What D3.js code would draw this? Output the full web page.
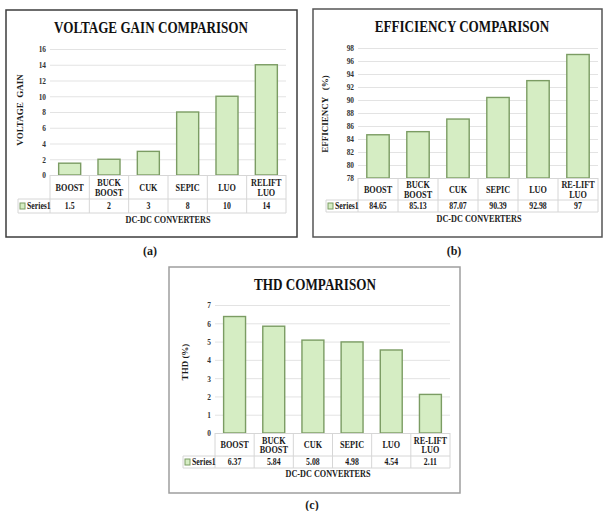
<!DOCTYPE html>
<html><head><meta charset="utf-8">
<script src="https://cdn.jsdelivr.net/npm/d3@7"></script>
<style>html,body{margin:0;padding:0;background:#fff;}svg{display:block;} svg text{font-family:"Liberation Serif","DejaVu Serif",serif;}</style>
</head><body>
<script>
// ---- data ----
const categoriesA = ["BOOST", "BUCK BOOST", "CUK", "SEPIC", "LUO", "RELIFT LUO"];
const categoriesBC = ["BOOST", "BUCK BOOST", "CUK", "SEPIC", "LUO", "RE-LIFT LUO"];
const voltageGain = [1.5, 2, 3, 8, 10, 14];
const efficiency = [84.65, 85.13, 87.07, 90.39, 92.98, 97];
const thd = [6.37, 5.84, 5.08, 4.98, 4.54, 2.11];
const voltageTicks = [0, 2, 4, 6, 8, 10, 12, 14, 16];
const efficiencyTicks = [78, 80, 82, 84, 86, 88, 90, 92, 94, 96, 98];
const thdTicks = [0, 1, 2, 3, 4, 5, 6, 7];
const seriesName = "Series1";
const xTitle = "DC-DC CONVERTERS";

const W = 604, H = 511;
const SX = 0.82;
const FONT = "Liberation Serif";
const BAR_FILL = "#d5edc3", BAR_STROKE = "#7b9c63";

const svg = d3.select("body").append("svg").attr("width", W).attr("height", H);

function txt(g, x, y, s, size, anchor, opts = {}) {
  const t = g.append("text")
    .attr("transform", `translate(${x},${y}) ${opts.rot ? "rotate(-90) " : ""}scale(${opts.sx || SX},1)`)
    .attr("text-anchor", anchor || "middle")
    .style("font-family", FONT).attr("font-weight", "bold")
    .attr("font-size", size).attr("fill", opts.fill || "#1a1a1a")
    .text(s);
  if (opts.ws) t.style("white-space", "pre");
  return t;
}

function panel(cfg) {
  const g = svg.append("g");
  g.append("rect").attr("x", cfg.box[0]).attr("y", cfg.box[1])
    .attr("width", cfg.box[2] - cfg.box[0]).attr("height", cfg.box[3] - cfg.box[1])
    .attr("fill", "#fff").attr("stroke", cfg.boxStroke).attr("stroke-width", cfg.boxWidth);
  txt(g, cfg.title[0], cfg.title[1], cfg.titleText, 16, "middle", { fill: "#111" });

  const p = cfg.plot;
  const x = d3.scaleBand().domain(cfg.cats).range([p.l, p.r]).paddingInner(0.44).paddingOuter(0.22);
  const xb = d3.scaleBand().domain(cfg.cats).range([p.l, p.r]);
  const y = d3.scaleLinear().domain(cfg.domain).range([p.b, p.t]);

  const grid = g.append("g").attr("transform", `translate(${p.l},0)`)
    .call(d3.axisLeft(y).tickValues(cfg.ticks).tickSize(-(p.r - p.l)).tickFormat(""));
  grid.select(".domain").remove();
  grid.selectAll(".tick line").attr("stroke", "#e3e3e3").attr("stroke-width", 1);
  const ax = g.append("g").attr("transform", `translate(${p.l - 4},0)`)
    .call(d3.axisLeft(y).tickValues(cfg.ticks).tickSize(0).tickPadding(0).tickFormat(d3.format("~g")));
  ax.select(".domain").remove();
  ax.selectAll(".tick text").style("font-family", FONT).attr("font-weight", "bold")
    .attr("font-size", 9).attr("fill", "#333")
    .attr("transform", `scale(${SX},1)`).attr("dy", "0.33em");

  g.append("g").selectAll("rect").data(cfg.values).join("rect")
    .attr("x", (d, i) => x(cfg.cats[i]))
    .attr("y", d => y(d))
    .attr("width", x.bandwidth())
    .attr("height", d => y(cfg.domain[0]) - y(d))
    .attr("fill", BAR_FILL).attr("stroke", BAR_STROKE).attr("stroke-width", 1.4);

  const tg = g.append("g").attr("stroke", "#d6d6d6").attr("stroke-width", 1);
  tg.append("line").attr("x1", p.l).attr("x2", p.r).attr("y1", p.b + 0.5).attr("y2", p.b + 0.5);
  tg.append("line").attr("x1", cfg.legendLeft).attr("x2", p.r).attr("y1", cfg.row1).attr("y2", cfg.row1);
  tg.append("line").attr("x1", cfg.legendLeft).attr("x2", p.r).attr("y1", cfg.row2).attr("y2", cfg.row2);
  tg.append("line").attr("x1", cfg.legendLeft).attr("x2", cfg.legendLeft).attr("y1", cfg.row1).attr("y2", cfg.row2);
  const edges = cfg.cats.map(c => xb(c)).concat([p.r]);
  tg.selectAll("line.v").data(edges).join("line").attr("class", "v")
    .attr("x1", d => d).attr("x2", d => d).attr("y1", p.b).attr("y2", cfg.row2);

  cfg.cats.forEach((c, i) => {
    const cx = xb(c) + xb.bandwidth() / 2;
    const parts = c.split(" ");
    if (parts.length === 1) {
      txt(g, cx, (p.b + cfg.row1) / 2 + 3.5, parts[0], 10, "middle");
    } else {
      txt(g, cx, (p.b + cfg.row1) / 2 - 1, parts[0], 10, "middle");
      txt(g, cx, (p.b + cfg.row1) / 2 + 8.5, parts[1], 10, "middle");
    }
    txt(g, cx, (cfg.row1 + cfg.row2) / 2 + 3.2, String(cfg.values[i]), 9.5, "middle");
  });
  const ly = (cfg.row1 + cfg.row2) / 2;
  g.append("rect").attr("x", cfg.legendLeft + 2).attr("y", ly - 3).attr("width", 5).attr("height", 6)
    .attr("fill", BAR_FILL).attr("stroke", BAR_STROKE).attr("stroke-width", 1);
  txt(g, cfg.legendLeft + 9, ly + 3.2, seriesName, 9.5, "start");

  txt(g, cfg.xTitle[0], cfg.xTitle[1], xTitle, 10, "middle");
  txt(g, cfg.yTitle[0], cfg.yTitle[1], cfg.yTitleText, 9, "middle", { rot: true, sx: 1, ws: true });
  txt(g, cfg.caption[0], cfg.caption[1], cfg.captionText, 12, "middle", { sx: 1 });
}

panel({
  box: [6, 10, 297, 237], boxStroke: "#3c3c3c", boxWidth: 1.5,
  title: [151, 33], titleText: "VOLTAGE GAIN COMPARISON",
  plot: { l: 50, r: 286, t: 49, b: 175 },
  cats: categoriesA, values: voltageGain, domain: [0, 16], ticks: voltageTicks,
  row1: 199, row2: 213, legendLeft: 18,
  xTitle: [168, 223], yTitle: [23, 110], yTitleText: "VOLTAGE  GAIN",
  caption: [150, 255], captionText: "(a)"
});
panel({
  box: [313, 9, 602, 237], boxStroke: "#555", boxWidth: 1.5,
  title: [462, 32], titleText: "EFFICIENCY COMPARISON",
  plot: { l: 358, r: 598, t: 48, b: 178 },
  cats: categoriesBC, values: efficiency, domain: [78, 98], ticks: efficiencyTicks,
  row1: 200, row2: 212, legendLeft: 326,
  xTitle: [479, 222], yTitle: [328, 114], yTitleText: "EFFICIENCY   (%)",
  caption: [454, 255], captionText: "(b)"
});
panel({
  box: [169, 267, 460, 493], boxStroke: "#9e9e9e", boxWidth: 1.5,
  title: [315, 290], titleText: "THD COMPARISON",
  plot: { l: 215, r: 450, t: 305, b: 433 },
  cats: categoriesBC, values: thd, domain: [0, 7], ticks: thdTicks,
  row1: 456, row2: 468, legendLeft: 183,
  xTitle: [328, 477], yTitle: [188, 362], yTitleText: "THD (%)",
  caption: [312, 509], captionText: "(c)"
});
</script>
</body></html>
